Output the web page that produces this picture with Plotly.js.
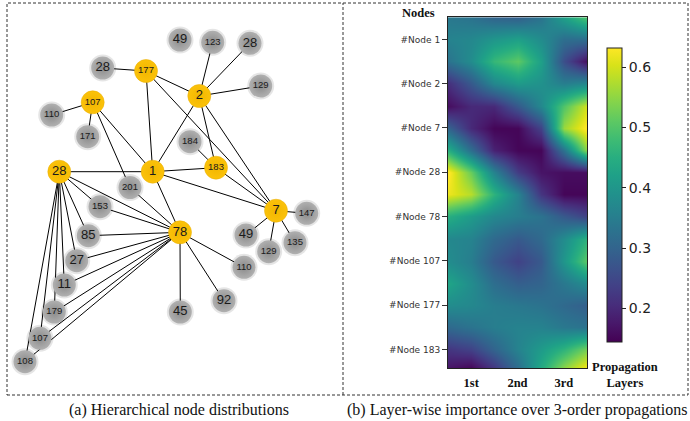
<!DOCTYPE html>
<html>
<head>
<meta charset="utf-8">
<script src="https://cdn.plot.ly/plotly-3.0.1.min.js"></script>
<style>html,body{margin:0;padding:0;background:#fff;}#chart{width:690px;height:421px;}</style>
</head>
<body>
<div id="chart"></div>
<script>
// ---------- (a) network data ----------
var nodeLabel = ['49','123','28','28','177','2','129','107','110','171','184','183','1','28','201','153','7','147','78','85','49','135','129','27','110','11','92','45','179','107','108'];
var nodeX = [180,212.7,250,102.7,146,199.3,260.7,92.7,51.7,87.7,190,216,152.7,59.3,130,100,276,306.7,180,88.3,246,295,268.7,76.7,244,64.3,224,180.3,54.3,40,25];
var nodeY = [40,42.3,43.3,68,71,96,86,102.3,115,136.7,141.7,167.7,171.7,171.7,187.5,206.7,210.7,213.3,232.3,235.7,235,242.7,251.7,260.7,267.3,285,300.7,312,312,338.3,361.7];
var nodeHub = [0,0,0,0,1,1,0,1,0,0,0,1,1,1,0,0,1,0,1,0,0,0,0,0,0,0,0,0,0,0,0];
var edgeFrom = [3,4,4,4,5,5,5,5,5,5,7,7,7,7,10,12,12,12,12,11,13,13,13,13,13,13,13,13,14,15,19,23,25,28,29,30,18,18,18,16,16,16,16];
var edgeTo   = [4,12,5,16,1,2,6,12,11,16,8,9,12,14,11,11,13,16,18,16,15,19,23,25,28,29,30,18,18,18,18,18,18,18,18,18,24,26,27,17,20,22,21];

// ---------- (b) heatmap data (sampled importance) ----------
var nodeNames = ['#Node 1','#Node 2','#Node 7','#Node 28','#Node 78','#Node 107','#Node 177','#Node 183'];
var layerNames = ['1st','2nd','3rd'];
var layerPos = [0.5,1,1.5,2,2.5,3,3.5];
var rowPos = [0.5,1,1.5,2,2.5,3,3.5,4,4.5,5,5.5,6,6.5,7,7.5,8,8.43];
var r00 = [0.34,0.33,0.30,0.29,0.33,0.42,0.50];
var r01 = [0.36,0.37,0.40,0.42,0.38,0.32,0.32];
var r02 = [0.33,0.38,0.47,0.51,0.42,0.26,0.16];
var r03 = [0.21,0.28,0.37,0.41,0.39,0.35,0.37];
var r04 = [0.16,0.20,0.20,0.28,0.37,0.50,0.60];
var r05 = [0.30,0.20,0.15,0.15,0.24,0.56,0.64];
var r06 = [0.45,0.32,0.19,0.15,0.15,0.33,0.55];
var r07 = [0.64,0.52,0.36,0.23,0.17,0.16,0.16];
var r08 = [0.62,0.58,0.46,0.36,0.22,0.15,0.15];
var r09 = [0.45,0.41,0.37,0.35,0.33,0.28,0.24];
var r10 = [0.37,0.36,0.31,0.28,0.31,0.38,0.46];
var r11 = [0.38,0.35,0.28,0.24,0.28,0.40,0.51];
var r12 = [0.43,0.38,0.32,0.29,0.30,0.34,0.38];
var r13 = [0.38,0.37,0.35,0.34,0.33,0.31,0.29];
var r14 = [0.31,0.33,0.35,0.36,0.36,0.34,0.33];
var r15 = [0.22,0.24,0.30,0.36,0.41,0.46,0.53];
var r16 = [0.17,0.15,0.22,0.32,0.44,0.55,0.63];
var cbTicks = [0.2,0.3,0.4,0.5,0.6];

// ---------- build ----------
var W = 690, H = 421;
function px(x){return x/W;}
function py(y){return 1-y/H;}

var ex = [], ey = [];
for (var i=0;i<edgeFrom.length;i++){
  ex.push(nodeX[edgeFrom[i]], nodeX[edgeTo[i]], null);
  ey.push(nodeY[edgeFrom[i]], nodeY[edgeTo[i]], null);
}
var gx=[],gy=[],gt=[],gs=[],yx=[],yy=[],yt=[],ys=[];
for (var j=0;j<nodeLabel.length;j++){
  var fs = nodeLabel[j].length>=3 ? 9.5 : 13;
  if (nodeHub[j]) {yx.push(nodeX[j]);yy.push(nodeY[j]);yt.push(nodeLabel[j]);ys.push(fs);}
  else {gx.push(nodeX[j]);gy.push(nodeY[j]);gt.push(nodeLabel[j]);gs.push(fs);}
}

var traces = [
  {type:'scatter',mode:'lines',x:ex,y:ey,xaxis:'x',yaxis:'y',line:{color:'#000',width:1},hoverinfo:'skip',showlegend:false},
  {type:'scatter',mode:'markers',x:gx,y:gy,xaxis:'x',yaxis:'y',marker:{size:27,color:'rgba(0,0,0,0.10)',line:{width:0}},hoverinfo:'skip',showlegend:false},
  {type:'scatter',mode:'markers+text',x:gx,y:gy,text:gt,xaxis:'x',yaxis:'y',
   marker:{size:23,color:'#b0b0b0',gradient:{type:'radial',color:'#8a8a8a'},line:{width:0}},
   textfont:{family:'Liberation Sans, Arial, sans-serif',size:gs,color:'#1a1a1a'},textposition:'middle center',showlegend:false},
  {type:'scatter',mode:'markers+text',x:yx,y:yy,text:yt,xaxis:'x',yaxis:'y',
   marker:{size:23,color:'#fbc20a',gradient:{type:'radial',color:'#f2b600'},line:{width:0.5,color:'#e8ad00'}},
   textfont:{family:'Liberation Sans, Arial, sans-serif',size:ys,color:'#1a1a1a'},textposition:'middle center',showlegend:false},
  {type:'heatmap',x:layerPos,y:rowPos,z:[r00,r01,r02,r03,r04,r05,r06,r07,r08,r09,r10,r11,r12,r13,r14,r15,r16],
   xaxis:'x2',yaxis:'y2',zsmooth:'best',colorscale:'Viridis',zmin:0.144,zmax:0.632,
   colorbar:{x:px(607),xanchor:'left',y:py(48),yanchor:'top',len:294/H,lenmode:'fraction',thickness:15,thicknessmode:'pixels',
     xpad:0,ypad:0,outlinewidth:1,outlinecolor:'#222',tickvals:cbTicks,ticktext:cbTicks.map(function(v){return v.toFixed(1);}),
     ticks:'outside',ticklen:4,tickcolor:'#222',tickfont:{family:'DejaVu Sans',size:14,color:'#222'}},
   hoverinfo:'skip'}
];

var layout = {
  width:W,height:H,margin:{l:0,r:0,t:0,b:0},paper_bgcolor:'#fff',plot_bgcolor:'rgba(0,0,0,0)',showlegend:false,
  xaxis:{domain:[px(7),px(343)],range:[7,343],visible:false,fixedrange:true},
  yaxis:{domain:[py(395),py(3)],range:[395,3],visible:false,fixedrange:true},
  xaxis2:{domain:[px(448),px(587)],range:[0.5,3.5],anchor:'y2',tickvals:[1,2,3],ticktext:layerNames,ticks:'',
    showline:true,mirror:true,linecolor:'#222',linewidth:1,showgrid:false,zeroline:false,ticklabelstandoff:3,
    tickfont:{family:'Liberation Serif, Times New Roman, serif',size:12.5,color:'#111',weight:'bold'}},
  yaxis2:{domain:[py(368.3),py(17.2)],range:[8.425,0.5],anchor:'x2',tickvals:[1,2,3,4,5,6,7,8],ticktext:nodeNames,
    ticks:'outside',ticklen:5,tickcolor:'#333',showline:true,mirror:true,linecolor:'#222',linewidth:1,showgrid:false,zeroline:false,
    tickfont:{family:'DejaVu Sans',size:9,color:'#333'}},
  shapes:[
    {type:'rect',xref:'paper',yref:'paper',x0:px(7),x1:px(688),y0:py(395),y1:py(3),line:{color:'#333',width:1,dash:'3px,2px'}},
    {type:'line',xref:'paper',yref:'paper',x0:px(343),x1:px(343),y0:py(395),y1:py(3),line:{color:'#333',width:1,dash:'3px,2px'}}
  ],
  annotations:[
    {xref:'paper',yref:'paper',x:px(418),y:py(13.5),text:'<b>Nodes</b>',showarrow:false,xanchor:'center',yanchor:'middle',
     font:{family:'Liberation Serif, Times New Roman, serif',size:12.5,color:'#111'}},
    {xref:'paper',yref:'paper',x:px(624.5),y:py(375),text:'<b>Propagation<br>Layers</b>',showarrow:false,xanchor:'center',yanchor:'middle',
     font:{family:'Liberation Serif, Times New Roman, serif',size:12.5,color:'#111'}},
    {xref:'paper',yref:'paper',x:px(179),y:py(410),text:'(a) Hierarchical node distributions',showarrow:false,xanchor:'center',yanchor:'middle',
     font:{family:'Liberation Serif, Times New Roman, serif',size:16,color:'#111'}},
    {xref:'paper',yref:'paper',x:px(516.5),y:py(410),text:'(b) Layer-wise importance over 3-order propagations',showarrow:false,xanchor:'center',yanchor:'middle',
     font:{family:'Liberation Serif, Times New Roman, serif',size:16,color:'#111'}}
  ]
};
Plotly.newPlot('chart',traces,layout,{staticPlot:true,displayModeBar:false});
</script>
</body>
</html>
